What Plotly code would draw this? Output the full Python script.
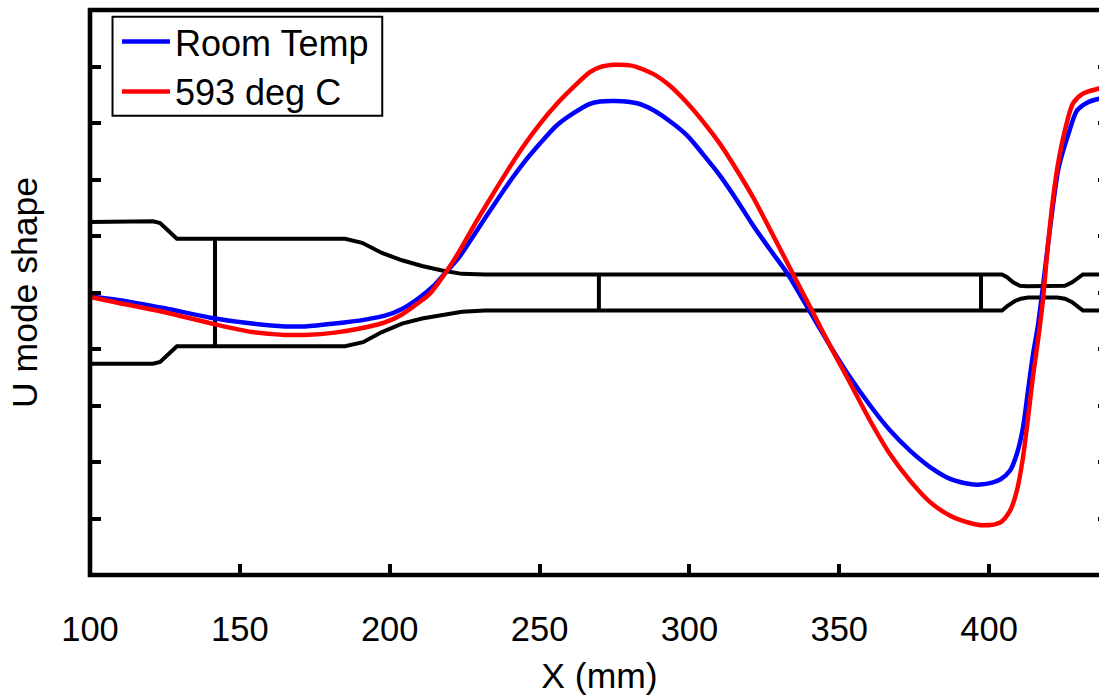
import plotly.graph_objects as go

room_x = [100,109.3,125,140.7,154.1,165.1,171.7,181.7,191.8,198.4,204.1,209.4,215.1,217.8,223.5,229.5,233.5,239.1,244.5,250.2,255.8,261.2,266.8,270.2,275.2,282.5,287.9,293.5,299.2,304.5,310.2,315.9,321.2,326.9,332.9,340.2,346.9,353.6,360.3,366.9,373.6,380.3,387,393.6,397,401.3,403.7,407,409.3,411.3,413,414.6,416.3,418,419.6,421.3,423,424.7,426.3,429.3,432.7,436.7,440]
room_y = [-0.07,-0.13,-0.28,-0.45,-0.55,-0.60,-0.60,-0.55,-0.48,-0.41,-0.29,-0.11,0.14,0.30,0.65,1.13,1.45,1.89,2.28,2.64,2.96,3.17,3.34,3.38,3.39,3.35,3.23,3.03,2.78,2.45,2.07,1.63,1.19,0.76,0.32,-0.34,-0.94,-1.50,-2.00,-2.44,-2.80,-3.09,-3.30,-3.39,-3.40,-3.36,-3.31,-3.15,-2.85,-2.39,-1.73,-1.11,-0.58,0.12,0.83,1.54,2.16,2.51,2.78,3.22,3.36,3.43,3.47]
hot_x = [100,109.3,125,140.7,154.1,165.1,171.7,181.7,191.8,198.4,204.1,209.4,213.4,218.5,222.8,228.5,233.5,239.1,244.5,250.2,255.8,261.2,266.8,270.2,275.2,280.2,282.5,287.9,293.5,299.2,304.5,310.2,315.9,321.2,326.9,332.6,336.2,340.9,346.9,352.6,360.3,366.9,373.6,380.3,387,393.6,398,403.7,407,409.3,411.3,413,414.6,416.3,418,419.3,421.3,423,425.3,428,431.3,436.7,440]
hot_y = [-0.08,-0.18,-0.35,-0.55,-0.70,-0.75,-0.75,-0.71,-0.62,-0.53,-0.39,-0.19,-0.02,0.34,0.69,1.22,1.66,2.14,2.58,2.99,3.34,3.63,3.90,3.99,4.03,4.02,3.99,3.87,3.66,3.36,3.03,2.63,2.16,1.69,1.115,0.53,0.16,-0.32,-0.94,-1.50,-2.27,-2.86,-3.33,-3.71,-3.95,-4.08,-4.12,-4.07,-3.86,-3.50,-2.92,-2.21,-1.50,-0.85,-0.11,0.65,1.65,2.28,2.87,3.35,3.52,3.61,3.65]
upper_x = [100,121,123.4,129,185.1,190.8,197.4,204.1,210.8,217.5,224.1,231.8,404.3,406,408,410.3,412.6,422.7,425.3,427.7,429.7,431.3,440]
upper_y = [1.25,1.26,1.23,0.95,0.95,0.88,0.70,0.57,0.47,0.39,0.33,0.32,0.32,0.27,0.18,0.12,0.11,0.11,0.12,0.18,0.27,0.32,0.32]
lower_x = [100,121,123.4,129,185.1,191.1,197.4,204.1,210.8,217.5,224.1,231.8,404.3,406.3,408.6,410.6,413,422.7,425.3,427.7,429.7,431.3,440]
lower_y = [-1.26,-1.26,-1.23,-0.95,-0.95,-0.88,-0.70,-0.55,-0.46,-0.40,-0.34,-0.32,-0.32,-0.23,-0.15,-0.11,-0.09,-0.09,-0.11,-0.17,-0.25,-0.32,-0.32]
bar_x = [141.7,269.8,397.3]
bar_half = [0.95,0.32,0.32]
x_ticks = [100,150,200,250,300,350,400]
y_ticks = [-4,-3,-2,-1,0,1,2,3,4]
names = ["Room Temp","593 deg C"]

FONT = "Liberation Sans, Arial, sans-serif"
fig = go.Figure()
for xs, ys in ((upper_x, upper_y), (lower_x, lower_y)):
    fig.add_trace(go.Scatter(x=xs, y=ys, mode="lines", line=dict(color="black", width=4), showlegend=False, hoverinfo="skip"))
for bx, h in zip(bar_x, bar_half):
    fig.add_trace(go.Scatter(x=[bx, bx], y=[-h, h], mode="lines", line=dict(color="black", width=4), showlegend=False, hoverinfo="skip"))
fig.add_trace(go.Scatter(x=room_x, y=room_y, mode="lines", name=names[0], line=dict(color="#0000ff", width=4.5, shape="spline", smoothing=0.8)))
fig.add_trace(go.Scatter(x=hot_x, y=hot_y, mode="lines", name=names[1], line=dict(color="#ff0000", width=4.5, shape="spline", smoothing=0.8)))

fig.update_layout(
    width=1125, height=696,
    margin=dict(l=90, r=16, t=10, b=121, autoexpand=False),
    paper_bgcolor="white", plot_bgcolor="white",
    font=dict(family=FONT, size=34.5, color="black"),
    shapes=[
        dict(type="rect", xref="paper", yref="paper", x0=0, x1=1, y0=0, y1=1, line=dict(color="black", width=4.6), layer="above"),
        dict(type="rect", xref="paper", yref="paper", x0=0.0221, x1=0.2868, y0=0.8129, y1=0.9881, line=dict(color="black", width=2), layer="above"),
    ],
    legend=dict(x=0.0265, y=0.997, xanchor="left", yanchor="top", borderwidth=0,
                bgcolor="rgba(0,0,0,0)", itemwidth=48, font=dict(size=36, family=FONT), traceorder="normal"),
    xaxis=dict(range=[100, 440], tickmode="array", tickvals=x_ticks, ticks="inside", ticklen=11, tickwidth=3.5,
               tickcolor="black", showline=False, showgrid=False, zeroline=False, ticklabelstandoff=30,
               title=dict(text="X (mm)", standoff=20, font=dict(size=35.5)), automargin=False),
    yaxis=dict(range=[-5, 5], tickmode="array", tickvals=y_ticks, ticks="inside", ticklen=11, tickwidth=3.5,
               tickcolor="black", showline=False, showgrid=False, zeroline=False, showticklabels=False, mirror="ticks",
               title=dict(text="U mode shape", standoff=40, font=dict(size=35.5)), automargin=False),
)
fig.write_html("out.html", config=dict(displayModeBar=False),
               post_script="document.body.style.margin='0';document.documentElement.style.overflow='hidden';document.body.style.overflow='hidden';")
